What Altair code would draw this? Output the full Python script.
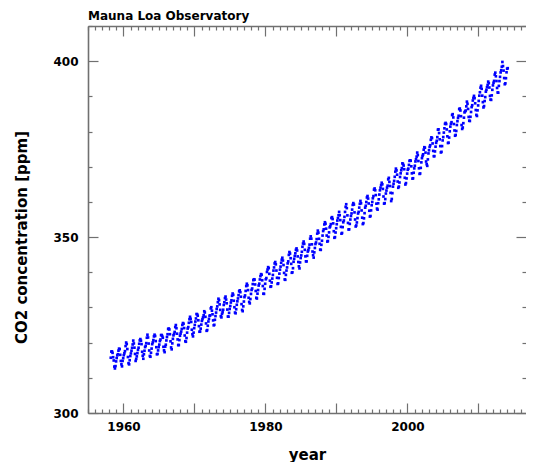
import altair as alt
import pandas as pd

# Monthly mean CO2 at Mauna Loa (ppm); 1958 starts in March, 2014 ends in February
co2_by_year = {
    1958: [315.71, 317.45, 317.50, 317.10, 315.86, 314.93, 313.20, 312.66, 313.33, 314.67],
    1959: [315.62, 316.38, 316.71, 317.72, 318.29, 318.15, 316.54, 314.80, 313.84, 313.26, 314.80, 315.58],
    1960: [316.43, 316.97, 317.58, 319.02, 320.03, 319.59, 318.18, 315.91, 314.16, 313.83, 315.00, 316.19],
    1961: [316.93, 317.70, 318.54, 319.48, 320.58, 319.77, 318.57, 316.79, 314.80, 315.38, 316.10, 317.01],
    1962: [317.94, 318.56, 319.68, 320.63, 321.01, 320.55, 319.58, 317.40, 316.26, 315.42, 316.69, 317.69],
    1963: [318.74, 319.08, 319.86, 321.39, 322.25, 321.47, 319.74, 317.77, 316.21, 315.99, 317.12, 318.31],
    1964: [319.57, 320.07, 320.73, 321.77, 322.25, 321.89, 320.44, 318.70, 316.70, 316.79, 317.79, 318.71],
    1965: [319.44, 320.44, 320.89, 322.13, 322.16, 321.87, 321.39, 318.81, 317.81, 317.30, 318.87, 319.42],
    1966: [320.62, 321.59, 322.39, 323.87, 324.01, 323.75, 322.39, 320.37, 318.64, 318.10, 319.79, 321.08],
    1967: [322.07, 322.50, 323.04, 324.42, 325.00, 324.09, 322.55, 320.92, 319.31, 319.31, 320.72, 321.96],
    1968: [322.57, 323.15, 323.89, 325.02, 325.57, 325.36, 324.14, 322.03, 320.41, 320.25, 321.31, 322.84],
    1969: [324.00, 324.42, 325.64, 326.66, 327.34, 326.76, 325.88, 323.67, 322.38, 321.78, 322.85, 324.11],
    1970: [325.03, 325.99, 326.87, 328.13, 328.07, 327.66, 326.35, 324.69, 323.10, 323.16, 323.98, 325.13],
    1971: [326.17, 326.68, 327.18, 327.78, 328.92, 328.57, 327.34, 325.46, 323.36, 323.57, 324.80, 326.01],
    1972: [326.77, 327.63, 327.75, 329.72, 330.07, 329.09, 328.05, 326.32, 324.93, 325.06, 326.50, 327.55],
    1973: [328.54, 329.56, 330.30, 331.50, 332.48, 332.07, 330.87, 329.31, 327.51, 327.18, 328.16, 328.64],
    1974: [329.35, 330.71, 331.48, 332.65, 333.09, 332.25, 331.18, 329.40, 327.43, 327.37, 328.46, 329.57],
    1975: [330.40, 331.40, 332.04, 333.31, 333.96, 333.59, 331.91, 330.06, 328.56, 328.34, 329.49, 330.76],
    1976: [331.75, 332.56, 333.50, 334.58, 334.87, 334.34, 333.05, 330.94, 329.30, 328.94, 330.31, 331.68],
    1977: [332.93, 333.42, 334.70, 336.07, 336.74, 336.27, 334.93, 332.75, 331.58, 331.16, 332.40, 333.85],
    1978: [334.97, 335.39, 336.64, 337.76, 338.01, 337.89, 336.54, 334.68, 332.76, 332.54, 333.92, 334.95],
    1979: [336.23, 336.76, 337.96, 338.89, 339.47, 339.29, 337.73, 336.09, 333.91, 333.86, 335.29, 336.73],
    1980: [338.01, 338.36, 340.08, 340.77, 341.46, 341.17, 339.56, 337.60, 335.88, 336.01, 337.10, 338.21],
    1981: [339.24, 340.48, 341.38, 342.51, 342.91, 342.25, 340.49, 338.43, 336.69, 336.85, 338.36, 339.61],
    1982: [340.75, 341.61, 342.70, 343.56, 344.13, 343.35, 342.06, 339.82, 337.97, 337.86, 339.26, 340.49],
    1983: [341.38, 342.52, 343.10, 344.94, 345.75, 345.32, 343.99, 342.39, 339.86, 339.99, 341.16, 342.99],
    1984: [343.82, 344.63, 345.38, 346.38, 346.78, 346.19, 344.51, 342.92, 341.69, 341.10, 342.80, 344.04],
    1985: [344.79, 345.82, 347.25, 348.17, 348.74, 348.07, 346.38, 344.52, 343.11, 343.09, 344.68, 345.89],
    1986: [346.29, 346.96, 347.86, 349.55, 350.21, 349.55, 347.94, 345.90, 344.85, 344.17, 345.66, 346.90],
    1987: [348.02, 348.47, 349.42, 350.99, 351.84, 351.25, 349.52, 348.10, 346.44, 346.36, 347.81, 348.96],
    1988: [350.43, 351.72, 352.22, 353.59, 354.22, 353.79, 352.39, 350.44, 348.72, 348.88, 350.07, 351.34],
    1989: [352.76, 353.07, 353.68, 355.42, 355.67, 355.13, 353.90, 351.67, 349.80, 349.99, 351.30, 352.52],
    1990: [353.66, 354.70, 355.39, 356.20, 357.16, 356.22, 354.82, 352.91, 350.96, 351.18, 352.83, 354.21],
    1991: [354.72, 355.75, 357.16, 358.60, 359.34, 358.24, 356.17, 354.03, 352.16, 352.21, 353.75, 354.99],
    1992: [355.99, 356.72, 357.81, 359.15, 359.66, 359.25, 357.02, 355.00, 353.01, 353.31, 354.16, 355.40],
    1993: [356.70, 357.16, 358.38, 359.46, 360.28, 359.60, 357.57, 355.52, 353.70, 353.98, 355.33, 356.80],
    1994: [358.36, 358.91, 359.97, 361.26, 361.68, 360.95, 359.55, 357.49, 355.84, 356.00, 357.59, 359.05],
    1995: [359.98, 361.03, 361.66, 363.48, 363.82, 363.30, 361.94, 359.50, 358.11, 357.80, 359.61, 360.74],
    1996: [362.09, 363.29, 364.06, 364.76, 365.45, 365.01, 363.70, 361.54, 359.51, 359.65, 360.80, 362.38],
    1997: [363.23, 364.06, 364.61, 366.40, 366.84, 365.68, 364.52, 362.57, 360.24, 360.83, 362.49, 364.34],
    1998: [365.16, 365.98, 367.13, 368.61, 369.46, 368.95, 367.74, 365.79, 364.01, 364.35, 365.52, 367.08],
    1999: [368.12, 368.98, 369.60, 370.96, 370.77, 370.33, 369.28, 366.86, 364.94, 365.35, 366.68, 368.04],
    2000: [369.14, 369.46, 370.52, 371.66, 371.82, 371.70, 370.12, 368.12, 366.62, 366.73, 368.29, 369.53],
    2001: [370.28, 371.50, 372.12, 372.87, 374.02, 373.30, 371.62, 369.55, 367.96, 368.09, 369.68, 371.24],
    2002: [372.44, 373.08, 373.52, 374.85, 375.55, 375.40, 374.02, 371.48, 370.71, 370.25, 372.08, 373.78],
    2003: [374.68, 375.62, 376.11, 377.65, 378.35, 378.13, 376.62, 374.50, 372.99, 373.00, 374.35, 375.70],
    2004: [376.79, 377.37, 378.41, 380.52, 380.63, 379.57, 377.79, 375.86, 374.06, 374.24, 375.86, 377.48],
    2005: [378.43, 379.70, 380.92, 382.18, 382.45, 382.14, 380.60, 378.64, 376.73, 376.84, 378.29, 380.06],
    2006: [381.40, 382.20, 382.66, 384.69, 384.94, 384.01, 382.14, 380.31, 378.81, 379.03, 380.17, 381.85],
    2007: [382.94, 383.86, 384.49, 386.37, 386.54, 385.98, 384.36, 381.85, 380.74, 381.15, 382.38, 383.94],
    2008: [385.44, 385.73, 385.97, 387.16, 388.50, 387.88, 386.42, 384.15, 383.09, 382.99, 384.19, 385.56],
    2009: [386.94, 387.48, 388.82, 389.55, 390.14, 389.48, 388.03, 386.11, 384.74, 384.43, 386.02, 387.42],
    2010: [388.71, 390.20, 391.17, 392.46, 393.00, 392.15, 390.20, 388.35, 386.85, 387.24, 388.67, 389.79],
    2011: [391.33, 391.86, 392.60, 393.25, 394.19, 393.74, 392.51, 390.13, 389.08, 389.00, 390.28, 391.86],
    2012: [393.12, 393.86, 394.40, 396.18, 396.74, 395.71, 394.36, 392.39, 391.11, 391.05, 392.98, 394.34],
    2013: [395.55, 396.80, 397.43, 398.41, 399.78, 398.61, 397.32, 395.20, 393.45, 393.70, 395.16, 396.84],
    2014: [397.85, 398.01],
}
first_month = {1958: 3}

x_tick_values = list(range(1955, 2017))
y_tick_values = list(range(300, 411, 10))

rows = []
for yr, vals in co2_by_year.items():
    m0 = first_month.get(yr, 1)
    for i, v in enumerate(vals):
        rows.append({"date": yr + (m0 + i - 0.5) / 12.0, "co2": v})
df = pd.DataFrame(rows)

FONT = "DejaVu Sans"
AX = "#707070"

x_scale = alt.Scale(domain=[1955, 2016.7], nice=False, zero=False)
y_scale = alt.Scale(domain=[300, 410], nice=False, zero=False)

x_tick_size = {"expr": "datum.value % 10 === 0 ? -10 : -4"}
y_tick_size = {"expr": "datum.value % 50 === 0 ? -10 : -4"}

line_style = dict(
    grid=False,
    domainColor=AX,
    domainWidth=1.6,
    tickColor=AX,
    tickWidth=1.2,
)
text_style = dict(
    labelFont=FONT,
    labelFontSize=12,
    labelFontWeight="bold",
    labelColor="black",
    labelOverlap=False,
    labelFlush=False,
    titleFont=FONT,
    titleFontSize=15,
    titleFontWeight="bold",
    titleColor="black",
)

x_bottom = alt.Axis(
    orient="bottom",
    values=x_tick_values,
    format="d",
    labelExpr="datum.value % 20 === 0 ? datum.label : ''",
    tickSize=x_tick_size,
    labelPadding=18,
    labelBaseline="top",
    title="year",
    titleY=46,
    titleBaseline="alphabetic",
    **line_style,
    **text_style,
)
y_left = alt.Axis(
    orient="left",
    values=y_tick_values,
    format="d",
    labelExpr="datum.value % 50 === 0 ? datum.label : ''",
    tickSize=y_tick_size,
    labelPadding=20,
    labelBaseline="middle",
    title="CO2 concentration [ppm]",
    titleAngle=270,
    titleX=-62,
    titleY=211,
    titleAlign="center",
    titleBaseline="alphabetic",
    **line_style,
    **text_style,
)
x_top = alt.Axis(
    orient="top",
    values=x_tick_values,
    labels=False,
    tickSize=x_tick_size,
    title=None,
    **line_style,
)
y_right = alt.Axis(
    orient="right",
    values=y_tick_values,
    labels=False,
    domain=False,
    tickSize=y_tick_size,
    title=None,
    **line_style,
)

points = alt.Chart(df).mark_square(size=7, color="#0000ff", opacity=1).encode(
    x=alt.X("date:Q", scale=x_scale, axis=x_bottom),
    y=alt.Y("co2:Q", scale=y_scale, axis=y_left),
)
frame = alt.Chart(df).mark_square(size=7, opacity=0).encode(
    x=alt.X("date:Q", scale=x_scale, axis=x_top),
    y=alt.Y("co2:Q", scale=y_scale, axis=y_right),
)

chart = (
    alt.layer(points, frame)
    .resolve_axis(x="independent", y="independent")
    .properties(
        width=438,
        height=387,
        autosize=alt.AutoSizeParams(type="none"),
        padding={"left": 80, "top": 18, "right": 0, "bottom": 49},
        title=alt.TitleParams(
            "Mauna Loa Observatory",
            anchor="start",
            frame="group",
            font=FONT,
            fontSize=12,
            fontWeight="bold",
            color="black",
            offset=4,
            dy=7,
        ),
    )
    .configure_view(stroke=None)
    .configure(background="white")
)

chart.save("out.html", embed_options={"renderer": "svg", "actions": False})
